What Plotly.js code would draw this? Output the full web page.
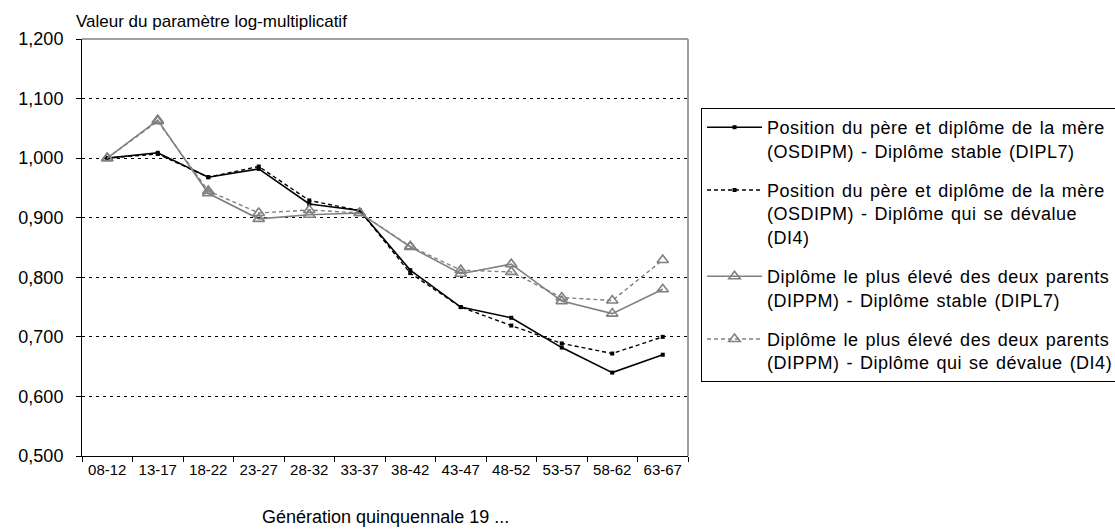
<!DOCTYPE html>
<html>
<head>
<meta charset="utf-8">
<script src="https://cdn.plot.ly/plotly-3.0.1.min.js"></script>
<style>
html,body{margin:0;padding:0;background:#fff;}
#chart{width:1115px;height:530px;}
.legendtext{letter-spacing:0.5px;word-spacing:1.5px;}
</style>
</head>
<body>
<div id="chart"></div>
<script>
const categories = ["08-12","13-17","18-22","23-27","28-32","33-37","38-42","43-47","48-52","53-57","58-62","63-67"];
const osdipmStable = [1.000, 1.009, 0.968, 0.982, 0.923, 0.912, 0.812, 0.750, 0.732, 0.682, 0.640, 0.670];
const osdipmDevalue = [1.000, 1.007, 0.968, 0.986, 0.929, 0.912, 0.807, 0.750, 0.719, 0.689, 0.672, 0.700];
const dippmStable = [1.000, 1.064, 0.941, 0.898, 0.905, 0.908, 0.851, 0.806, 0.822, 0.760, 0.739, 0.780];
const dippmDevalue = [1.000, 1.062, 0.945, 0.908, 0.913, 0.908, 0.852, 0.812, 0.809, 0.766, 0.761, 0.829];
const seriesNames = [
  "Position du père et diplôme de la mère<br>(OSDIPM) - Diplôme stable (DIPL7)",
  "Position du père et diplôme de la mère<br>(OSDIPM) - Diplôme qui se dévalue<br>(DI4)",
  "Diplôme le plus élevé des deux parents<br>(DIPPM) - Diplôme stable (DIPL7)",
  "Diplôme le plus élevé des deux parents<br>(DIPPM) - Diplôme qui se dévalue (DI4)"
];
const yTitle = "Valeur du paramètre log-multiplicatif";
const xTitle = "Génération quinquennale 19 ...";

const FONT = "Liberation Sans, Arial, sans-serif";
const GRAY = "#808080";

const traces = [
  {x: categories, y: osdipmStable, name: seriesNames[0], legendgroup: "a",
   mode: "lines+markers", line: {color: "#000", width: 1.6},
   marker: {symbol: "square", size: 4, color: "#000"}},
  {x: categories, y: osdipmDevalue, name: seriesNames[1], legendgroup: "b",
   mode: "lines+markers", line: {color: "#000", width: 1.4, dash: "4px,3px"},
   marker: {symbol: "square", size: 4, color: "#000"}},
  {x: categories, y: dippmStable, name: seriesNames[2], legendgroup: "c",
   mode: "lines+markers", line: {color: GRAY, width: 1.6},
   marker: {symbol: "triangle-up-open", size: 10, color: GRAY, line: {width: 1.6, color: GRAY}}},
  {x: categories, y: dippmDevalue, name: seriesNames[3], legendgroup: "d",
   mode: "lines+markers", line: {color: GRAY, width: 1.4, dash: "4px,3px"},
   marker: {symbol: "triangle-up-open", size: 10, color: GRAY, line: {width: 1.6, color: GRAY}}}
];

const layout = {
  width: 1115, height: 530,
  margin: {l: 82, r: 427, t: 39, b: 74, autoexpand: false},
  paper_bgcolor: "#fff", plot_bgcolor: "#fff",
  separators: ", ",
  font: {family: FONT, size: 18, color: "#000"},
  showlegend: true,
  legend: {
    x: 1.0215, xanchor: "left", y: 0.8345, yanchor: "top",
    bordercolor: "#000", borderwidth: 1, bgcolor: "#fff",
    font: {family: FONT, size: 18, color: "#000"},
    valign: "top", tracegroupgap: 13, itemwidth: 55, traceorder: "grouped"
  },
  xaxis: {
    type: "category", tickson: "boundaries",
    ticks: "outside", ticklen: 5, tickcolor: "#000", tickangle: 0,
    showline: true, linecolor: "#000", linewidth: 1,
    showgrid: false, zeroline: false,
    tickfont: {family: FONT, size: 15, color: "#000"},
    range: [-0.5, 11.5], fixedrange: true
  },
  yaxis: {
    range: [0.5, 1.2], dtick: 0.1, tick0: 0.5, tickformat: ".3f",
    ticks: "outside", ticklen: 5, tickcolor: "#000", ticklabelstandoff: 9,
    showline: true, linecolor: "#000", linewidth: 1,
    showgrid: true, gridcolor: "#000", gridwidth: 1, griddash: "3px,4px",
    zeroline: false,
    tickfont: {family: FONT, size: 18, color: "#000"}
  },
  shapes: [
    {type: "line", xref: "paper", yref: "paper", x0: 0, x1: 1, y0: 1, y1: 1, line: {color: GRAY, width: 1.5}},
    {type: "line", xref: "paper", yref: "paper", x0: 1, x1: 1, y0: 0, y1: 1, line: {color: GRAY, width: 1.5}}
  ],
  annotations: [
    {text: yTitle, xref: "paper", yref: "paper", x: -0.013, y: 1.0, xanchor: "left", yanchor: "bottom",
     yshift: 6, showarrow: false, font: {family: FONT, size: 17, color: "#000"}},
    {text: xTitle, xref: "paper", yref: "paper", x: 0.5, y: -0.146, xanchor: "center", yanchor: "middle",
     showarrow: false, font: {family: FONT, size: 18, color: "#000"}}
  ]
};

Plotly.newPlot("chart", traces, layout, {displayModeBar: false, staticPlot: true});
</script>
</body>
</html>
